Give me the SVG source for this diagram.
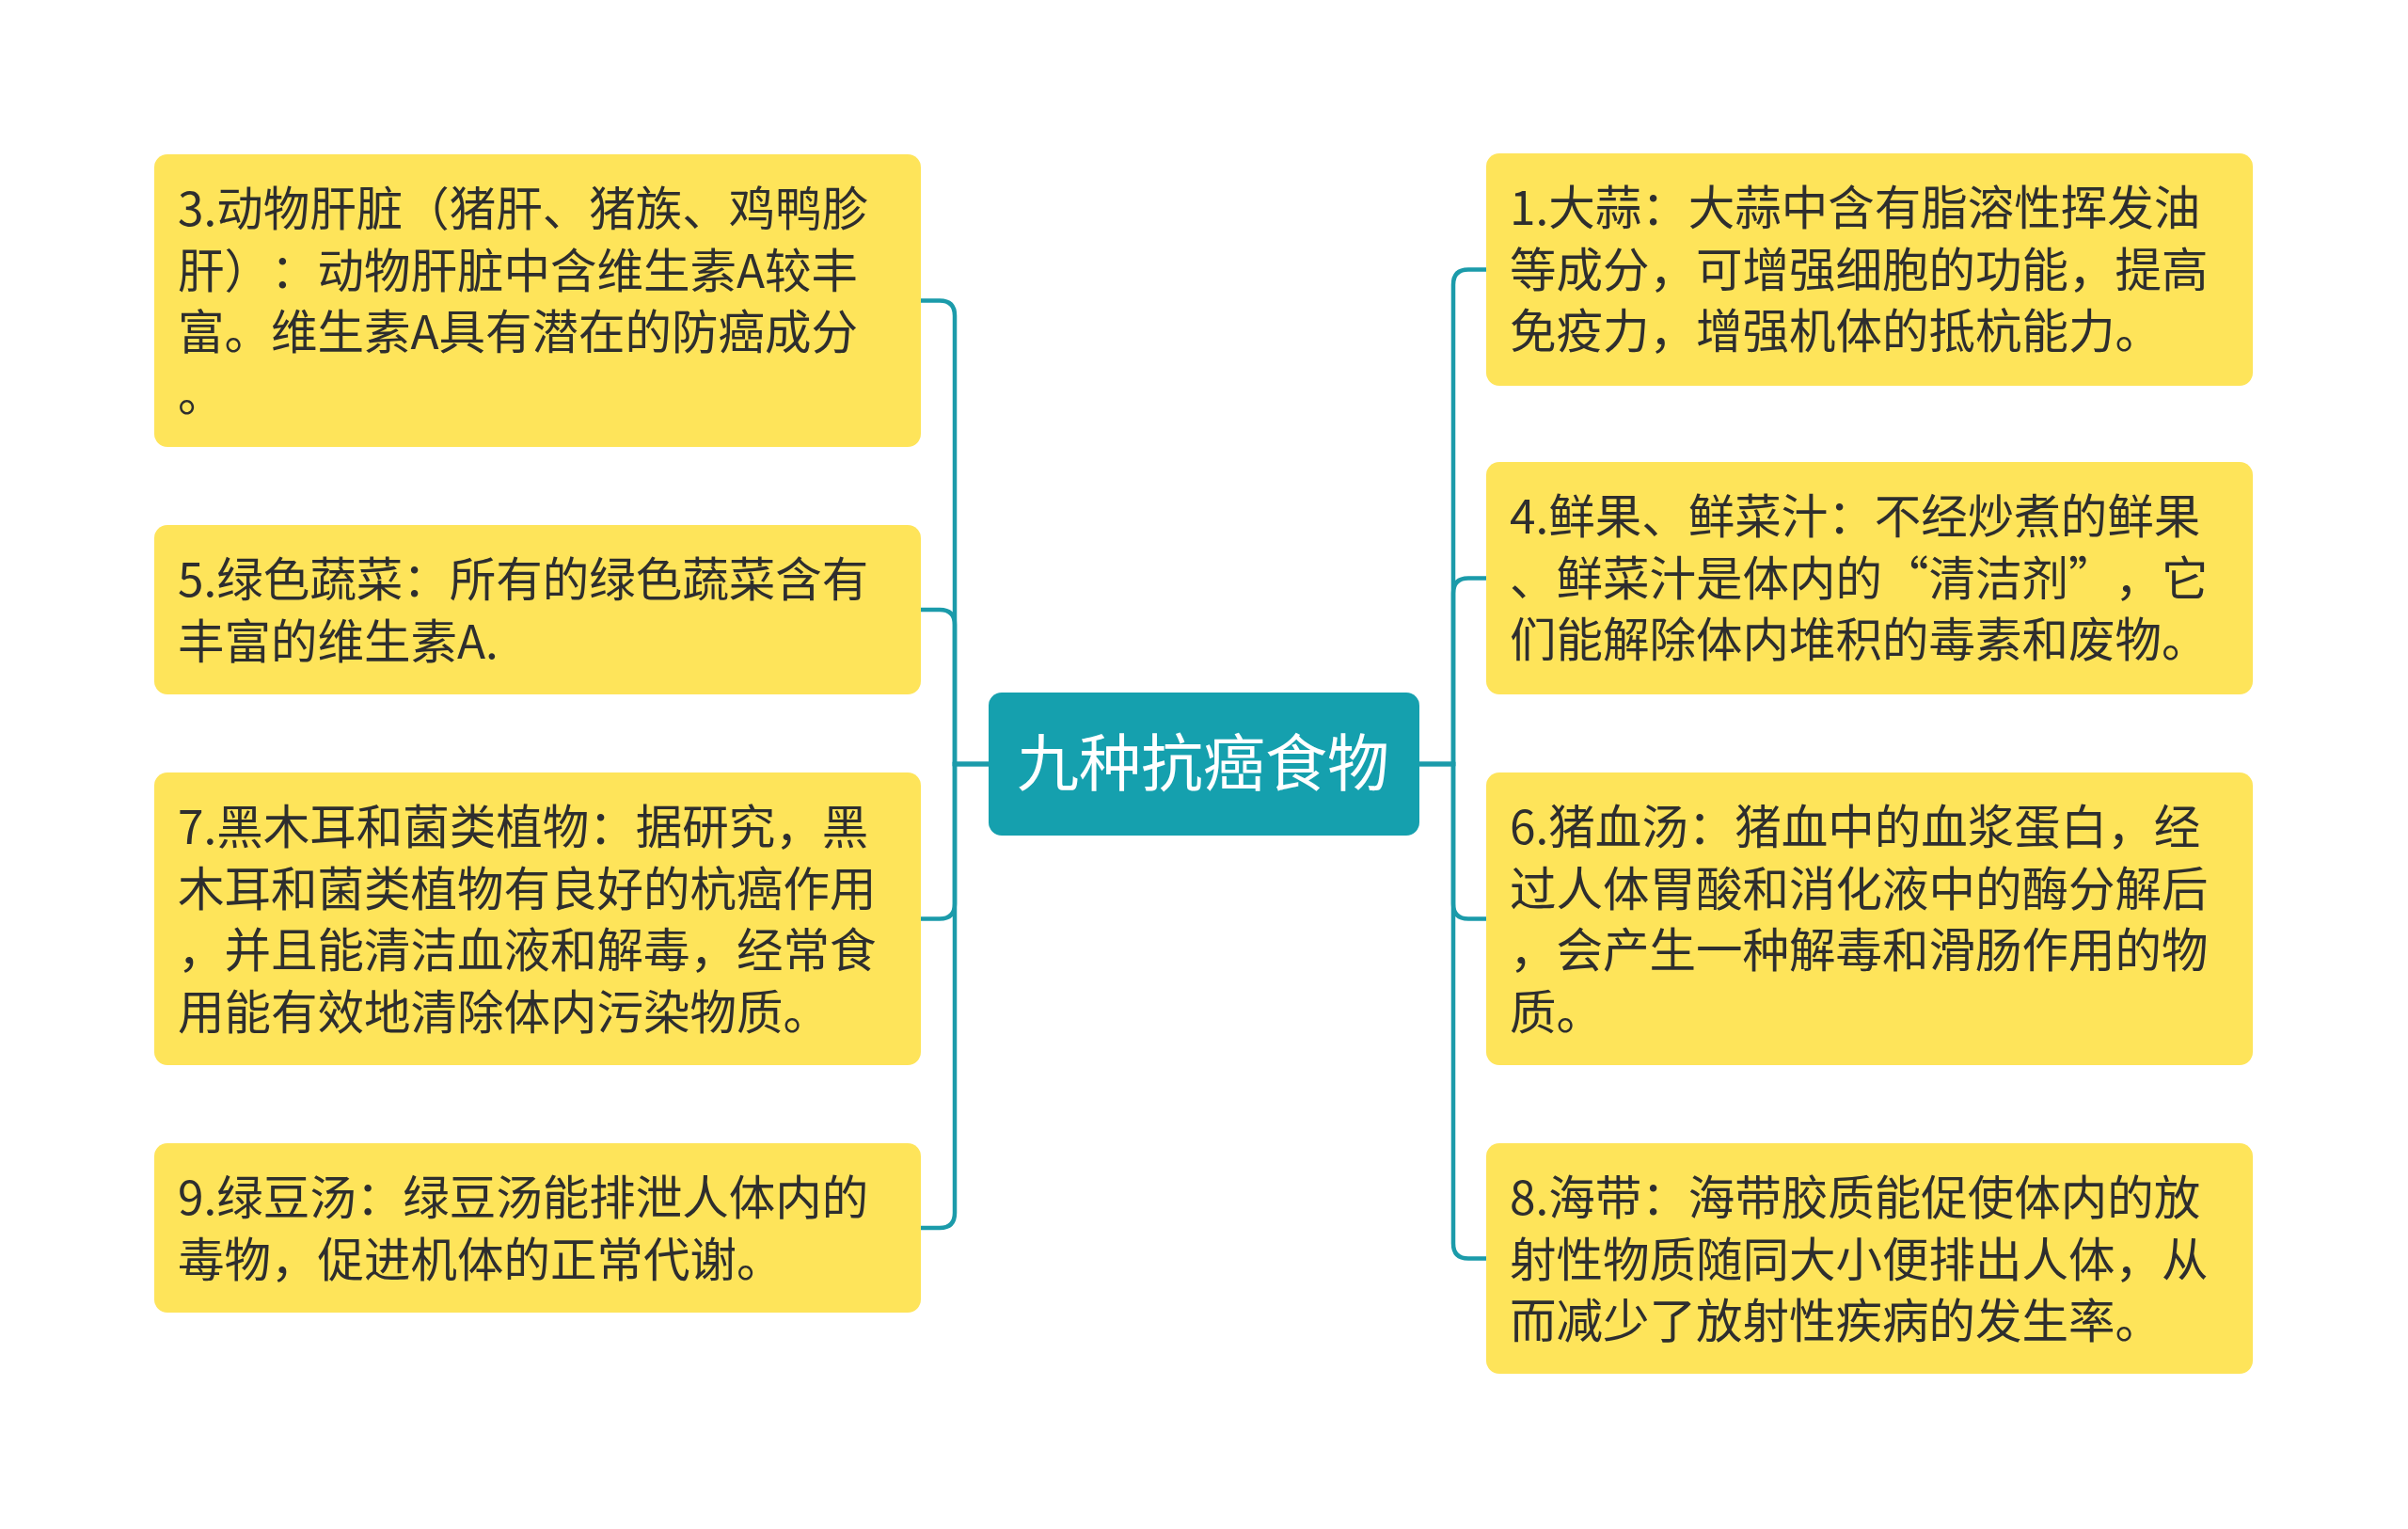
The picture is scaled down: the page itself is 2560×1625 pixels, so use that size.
<svg xmlns="http://www.w3.org/2000/svg" width="2560" height="1625" viewBox="0 0 2560 1625">
<style>
text{text-spacing-trim:space-all;}
.node rect{fill:#FEE45A;}
.node text{font-family:"Noto Sans CJK SC","Noto Sans",sans-serif;font-size:49.5px;fill:#2E2E2E;}
.root rect{fill:#15A0AE;}
.root text{font-family:"Noto Sans CJK SC","Noto Sans",sans-serif;font-size:66px;fill:#FFFFFF;text-anchor:middle;}
.conn path{fill:none;stroke:#1B9BAA;stroke-width:4.5;}
</style>
<rect width="2560" height="1625" fill="#FFFFFF"/>
<g id="connectors" class="conn">
<path d="M1051 812 H1015 V335.5 Q1015 319.5 999 319.5 H979"/>
<path d="M1051 812 H1015 V664 Q1015 648 999 648 H979"/>
<path d="M1051 812 H1015 V960.5 Q1015 976.5 999 976.5 H979"/>
<path d="M1051 812 H1015 V1289 Q1015 1305 999 1305 H979"/>
<path d="M1509 812 H1545 V302.5 Q1545 286.5 1561 286.5 H1580"/>
<path d="M1509 812 H1545 V630.5 Q1545 614.5 1561 614.5 H1580"/>
<path d="M1509 812 H1545 V960.5 Q1545 976.5 1561 976.5 H1580"/>
<path d="M1509 812 H1545 V1321.5 Q1545 1337.5 1561 1337.5 H1580"/>
</g>
<g id="root" class="root">
<rect x="1051" y="736" width="458" height="152" rx="14"/>
<text x="1279" y="835">九种抗癌食物</text>
</g>
<g id="node3" class="node">
<rect x="164" y="164" width="815" height="311" rx="14"/>
<text x="189" y="240"><tspan x="189" y="240">3.动物肝脏（猪肝、猪族、鸡鸭胗</tspan><tspan x="189" y="305.5">肝）：动物肝脏中含维生素A较丰</tspan><tspan x="189" y="371">富。维生素A具有潜在的防癌成分</tspan><tspan x="189" y="436.5">。</tspan></text>
</g>
<g id="node5" class="node">
<rect x="164" y="558" width="815" height="180" rx="14"/>
<text x="189" y="634"><tspan x="189" y="634">5.绿色蔬菜：所有的绿色蔬菜含有</tspan><tspan x="189" y="699.5">丰富的维生素A.</tspan></text>
</g>
<g id="node7" class="node">
<rect x="164" y="821" width="815" height="311" rx="14"/>
<text x="189" y="897"><tspan x="189" y="897">7.黑木耳和菌类植物：据研究，黑</tspan><tspan x="189" y="962.5">木耳和菌类植物有良好的杭癌作用</tspan><tspan x="189" y="1028">，并且能清洁血液和解毒，经常食</tspan><tspan x="189" y="1093.5">用能有效地清除体内污染物质。</tspan></text>
</g>
<g id="node9" class="node">
<rect x="164" y="1215" width="815" height="180" rx="14"/>
<text x="189" y="1291"><tspan x="189" y="1291">9.绿豆汤：绿豆汤能排泄人体内的</tspan><tspan x="189" y="1356.5">毒物，促进机体的正常代谢。</tspan></text>
</g>
<g id="node1" class="node">
<rect x="1580" y="163" width="815" height="247" rx="14"/>
<text x="1605" y="239"><tspan x="1605" y="239">1.大蒜：大蒜中含有脂溶性挥发油</tspan><tspan x="1605" y="304.5">等成分，可增强细胞的功能，提高</tspan><tspan x="1605" y="370">免疫力，增强机体的抵杭能力。</tspan></text>
</g>
<g id="node4" class="node">
<rect x="1580" y="491" width="815" height="247" rx="14"/>
<text x="1605" y="567"><tspan x="1605" y="567">4.鲜果、鲜菜汁：不经炒煮的鲜果</tspan><tspan x="1605" y="632.5">、鲜菜汁是体内的“清洁剂”，它</tspan><tspan x="1605" y="698">们能解除体内堆积的毒素和废物。</tspan></text>
</g>
<g id="node6" class="node">
<rect x="1580" y="821" width="815" height="311" rx="14"/>
<text x="1605" y="897"><tspan x="1605" y="897">6.猪血汤：猪血中的血浆蛋白，经</tspan><tspan x="1605" y="962.5">过人体胃酸和消化液中的酶分解后</tspan><tspan x="1605" y="1028">，会产生一种解毒和滑肠作用的物</tspan><tspan x="1605" y="1093.5">质。</tspan></text>
</g>
<g id="node8" class="node">
<rect x="1580" y="1215" width="815" height="245" rx="14"/>
<text x="1605" y="1291"><tspan x="1605" y="1291">8.海带：海带胶质能促使体内的放</tspan><tspan x="1605" y="1356.5">射性物质随同大小便排出人体，从</tspan><tspan x="1605" y="1422">而减少了放射性疾病的发生率。</tspan></text>
</g>
</svg>
